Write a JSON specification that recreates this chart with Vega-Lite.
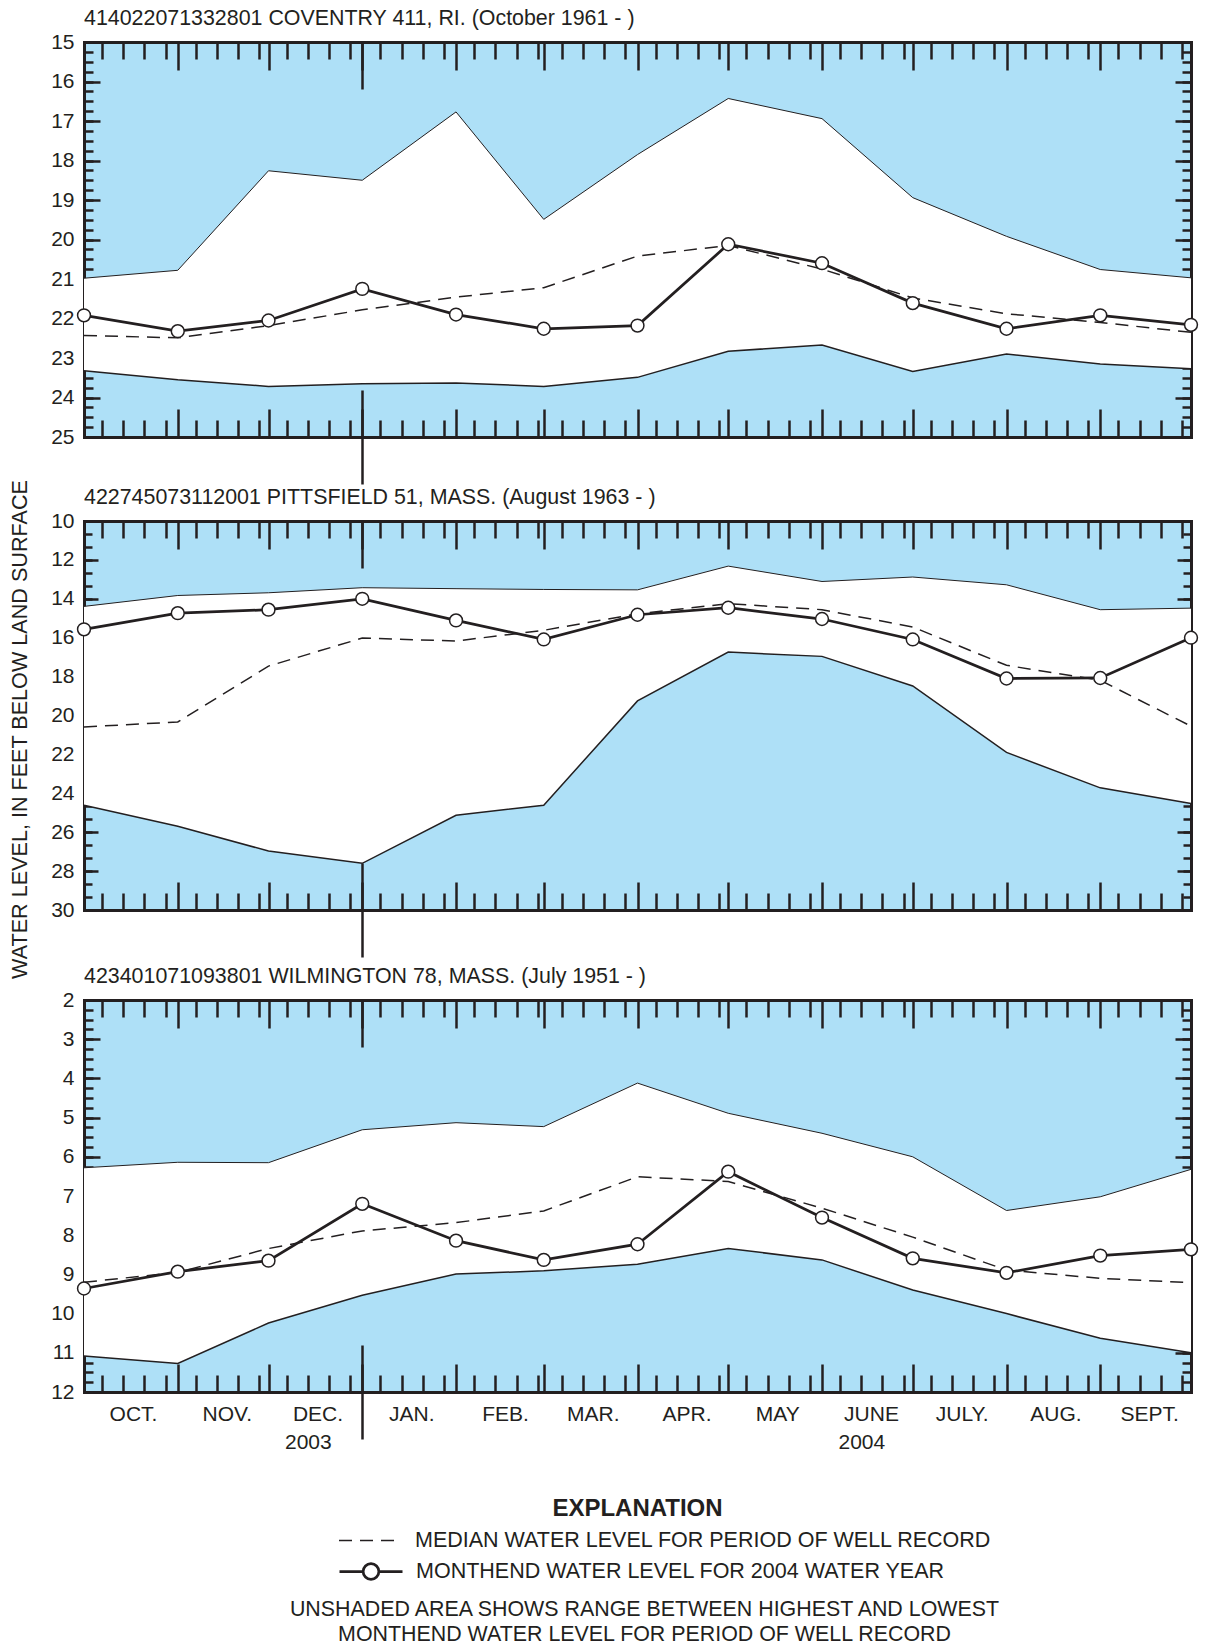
{
  "$schema": "https://vega.github.io/schema/vega-lite/v6.json",
  "background": "white",
  "padding": {"left": 9, "top": 7, "right": 5, "bottom": 5},
  "params": [
    {"name": "xmin", "expr": "[datetime(2003,9,7),datetime(2003,9,14),datetime(2003,9,21),datetime(2003,9,28),datetime(2003,10,7),datetime(2003,10,14),datetime(2003,10,21),datetime(2003,10,28),datetime(2003,11,7),datetime(2003,11,14),datetime(2003,11,21),datetime(2003,11,28),datetime(2004,0,7),datetime(2004,0,14),datetime(2004,0,21),datetime(2004,0,28),datetime(2004,1,7),datetime(2004,1,14),datetime(2004,1,21),datetime(2004,1,28),datetime(2004,2,7),datetime(2004,2,14),datetime(2004,2,21),datetime(2004,2,28),datetime(2004,3,7),datetime(2004,3,14),datetime(2004,3,21),datetime(2004,3,28),datetime(2004,4,7),datetime(2004,4,14),datetime(2004,4,21),datetime(2004,4,28),datetime(2004,5,7),datetime(2004,5,14),datetime(2004,5,21),datetime(2004,5,28),datetime(2004,6,7),datetime(2004,6,14),datetime(2004,6,21),datetime(2004,6,28),datetime(2004,7,7),datetime(2004,7,14),datetime(2004,7,21),datetime(2004,7,28),datetime(2004,8,7),datetime(2004,8,14),datetime(2004,8,21),datetime(2004,8,28)]"},
    {"name": "xmon", "expr": "[datetime(2003,9,1),datetime(2003,10,1),datetime(2003,11,1),datetime(2004,0,1),datetime(2004,1,1),datetime(2004,2,1),datetime(2004,3,1),datetime(2004,4,1),datetime(2004,5,1),datetime(2004,6,1),datetime(2004,7,1),datetime(2004,8,1)]"},
    {"name": "xyr", "expr": "[datetime(2004,0,1)]"}
  ],
  "datasets": {
    "coventry": [
      {"date": "2003-10-01T00:00:00", "hi": 20.98, "lo": 23.32, "median": 22.43, "monthend": 21.92},
      {"date": "2003-11-01T00:00:00", "hi": 20.78, "lo": 23.55, "median": 22.49, "monthend": 22.32},
      {"date": "2003-12-01T00:00:00", "hi": 18.26, "lo": 23.72, "median": 22.18, "monthend": 22.05},
      {"date": "2004-01-01T00:00:00", "hi": 18.5, "lo": 23.65, "median": 21.78, "monthend": 21.25},
      {"date": "2004-02-01T00:00:00", "hi": 16.77, "lo": 23.63, "median": 21.46, "monthend": 21.9},
      {"date": "2004-03-01T00:00:00", "hi": 19.49, "lo": 23.72, "median": 21.22, "monthend": 22.26},
      {"date": "2004-04-01T00:00:00", "hi": 17.85, "lo": 23.49, "median": 20.42, "monthend": 22.18},
      {"date": "2004-05-01T00:00:00", "hi": 16.43, "lo": 22.83, "median": 20.15, "monthend": 20.12},
      {"date": "2004-06-01T00:00:00", "hi": 16.94, "lo": 22.67, "median": 20.75, "monthend": 20.6},
      {"date": "2004-07-01T00:00:00", "hi": 18.94, "lo": 23.34, "median": 21.48, "monthend": 21.61},
      {"date": "2004-08-01T00:00:00", "hi": 19.92, "lo": 22.9, "median": 21.88, "monthend": 22.26},
      {"date": "2004-09-01T00:00:00", "hi": 20.76, "lo": 23.15, "median": 22.1, "monthend": 21.92},
      {"date": "2004-10-01T00:00:00", "hi": 20.97, "lo": 23.27, "median": 22.35, "monthend": 22.16}
    ],
    "pittsfield": [
      {"date": "2003-10-01T00:00:00", "hi": 14.39, "lo": 24.61, "median": 20.59, "monthend": 15.57},
      {"date": "2003-11-01T00:00:00", "hi": 13.83, "lo": 25.69, "median": 20.33, "monthend": 14.74},
      {"date": "2003-12-01T00:00:00", "hi": 13.69, "lo": 26.97, "median": 17.46, "monthend": 14.56},
      {"date": "2004-01-01T00:00:00", "hi": 13.43, "lo": 27.6, "median": 16.02, "monthend": 14.0},
      {"date": "2004-02-01T00:00:00", "hi": 13.48, "lo": 25.13, "median": 16.17, "monthend": 15.11},
      {"date": "2004-03-01T00:00:00", "hi": 13.52, "lo": 24.61, "median": 15.62, "monthend": 16.09},
      {"date": "2004-04-01T00:00:00", "hi": 13.54, "lo": 19.25, "median": 14.77, "monthend": 14.82},
      {"date": "2004-05-01T00:00:00", "hi": 12.32, "lo": 16.74, "median": 14.25, "monthend": 14.46},
      {"date": "2004-06-01T00:00:00", "hi": 13.11, "lo": 16.96, "median": 14.56, "monthend": 15.04},
      {"date": "2004-07-01T00:00:00", "hi": 12.88, "lo": 18.48, "median": 15.45, "monthend": 16.09},
      {"date": "2004-08-01T00:00:00", "hi": 13.28, "lo": 21.9, "median": 17.42, "monthend": 18.1},
      {"date": "2004-09-01T00:00:00", "hi": 14.56, "lo": 23.72, "median": 18.19, "monthend": 18.07},
      {"date": "2004-10-01T00:00:00", "hi": 14.48, "lo": 24.52, "median": 20.55, "monthend": 16.0}
    ],
    "wilmington": [
      {"date": "2003-10-01T00:00:00", "hi": 6.28, "lo": 11.08, "median": 9.2, "monthend": 9.36},
      {"date": "2003-11-01T00:00:00", "hi": 6.14, "lo": 11.27, "median": 8.95, "monthend": 8.93},
      {"date": "2003-12-01T00:00:00", "hi": 6.15, "lo": 10.24, "median": 8.34, "monthend": 8.65},
      {"date": "2004-01-01T00:00:00", "hi": 5.31, "lo": 9.53, "median": 7.89, "monthend": 7.2},
      {"date": "2004-02-01T00:00:00", "hi": 5.13, "lo": 8.99, "median": 7.68, "monthend": 8.14},
      {"date": "2004-03-01T00:00:00", "hi": 5.23, "lo": 8.91, "median": 7.38, "monthend": 8.63},
      {"date": "2004-04-01T00:00:00", "hi": 4.12, "lo": 8.74, "median": 6.51, "monthend": 8.23},
      {"date": "2004-05-01T00:00:00", "hi": 4.89, "lo": 8.34, "median": 6.63, "monthend": 6.38},
      {"date": "2004-06-01T00:00:00", "hi": 5.4, "lo": 8.63, "median": 7.31, "monthend": 7.55},
      {"date": "2004-07-01T00:00:00", "hi": 6.0, "lo": 9.4, "median": 8.05, "monthend": 8.59},
      {"date": "2004-08-01T00:00:00", "hi": 7.37, "lo": 10.0, "median": 8.89, "monthend": 8.96},
      {"date": "2004-09-01T00:00:00", "hi": 7.02, "lo": 10.63, "median": 9.1, "monthend": 8.52},
      {"date": "2004-10-01T00:00:00", "hi": 6.32, "lo": 11.0, "median": 9.21, "monthend": 8.36}
    ]
  },
  "title": {
    "text": ["UNSHADED AREA SHOWS RANGE BETWEEN HIGHEST AND LOWEST", "MONTHEND WATER LEVEL FOR PERIOD OF WELL RECORD"],
    "orient": "bottom", "anchor": "middle", "frame": "group", "baseline": "top",
    "fontSize": 21.4, "lineHeight": 25, "offset": 13, "dx": 7
  },
  "bounds": "flush",
  "spacing": 84,
  "vconcat": [
    {
      "width": 1107, "height": 395,
      "title": {"text": "414022071332801 COVENTRY 411, RI. (October 1961 - )"},
      "data": {"name": "coventry"},
      "layer": [
        {"mark": {"type": "area", "color": "white", "opacity": 1},
         "encoding": {
           "x": {"field": "date", "type": "temporal", "scale": {"domain": [{"year": 2003, "month": 10, "date": 1}, {"year": 2004, "month": 10, "date": 1}], "nice": false},
                 "axis": {"orient": "bottom", "title": null, "labels": false, "values": {"expr": "xmin"}, "tickSize": -17}},
           "y": {"field": "hi", "type": "quantitative", "scale": {"domain": [15, 25], "reverse": true, "nice": false, "zero": false},
                 "axis": {"orient": "left", "title": "WATER LEVEL, IN FEET BELOW LAND SURFACE", "titleY": 687, "titlePadding": 19,
                          "values": {"expr": "sequence(15, 25.001, 1)"}, "format": "d", "tickSize": -16, "labelPadding": 26}},
           "y2": {"field": "lo"}
         }},
        {"mark": {"type": "line", "color": "#231f20", "strokeWidth": 1},
         "encoding": {
           "x": {"field": "date", "type": "temporal", "axis": {"orient": "bottom", "title": null, "labels": false, "domain": false, "values": {"expr": "xmon"}, "tickSize": -28}},
           "y": {"field": "hi", "type": "quantitative", "axis": {"orient": "left", "title": null, "labels": false, "domain": false, "values": {"expr": "sequence(15, 25.001, 0.25)"}, "tickSize": -9}}
         }},
        {"mark": {"type": "line", "color": "#231f20", "strokeWidth": 1.5},
         "encoding": {
           "x": {"field": "date", "type": "temporal", "axis": {"orient": "bottom", "title": null, "labels": false, "domain": false, "values": {"expr": "xyr"}, "tickSize": 94, "offset": -47}},
           "y": {"field": "lo", "type": "quantitative", "axis": {"orient": "right", "title": null, "labels": false, "values": {"expr": "sequence(15, 25.001, 1)"}, "tickSize": -16}}
         }},
        {"mark": {"type": "line", "color": "#231f20", "strokeWidth": 1.5},
         "encoding": {
           "x": {"field": "date", "type": "temporal", "axis": {"orient": "top", "title": null, "labels": false, "values": {"expr": "xmin"}, "tickSize": -17}},
           "y": {"field": "median", "type": "quantitative", "axis": {"orient": "right", "title": null, "labels": false, "domain": false, "values": {"expr": "sequence(15, 25.001, 0.25)"}, "tickSize": -9}},
           "strokeDash": {"datum": "MEDIAN WATER LEVEL FOR PERIOD OF WELL RECORD", "type": "nominal",
             "scale": {"domain": ["MEDIAN WATER LEVEL FOR PERIOD OF WELL RECORD"], "range": [[13, 8]]},
             "legend": {"title": null, "orient": "none", "legendX": 254, "legendY": 1466,
               "labelFontSize": 21.5, "labelColor": "#231f20", "labelOffset": 12, "labelLimit": 1000,
               "symbolSize": 3969, "symbolType": "M-1,0H1", "symbolStrokeWidth": 1.5, "symbolStrokeColor": "#231f20"}}
         }},
        {"mark": {"type": "line", "color": "#231f20"},
         "encoding": {
           "x": {"field": "date", "type": "temporal", "axis": {"orient": "top", "title": null, "labels": false, "domain": false, "values": {"expr": "xmon"}, "tickSize": -28}},
           "y": {"field": "monthend", "type": "quantitative", "axis": null},
           "strokeWidth": {"datum": "MONTHEND WATER LEVEL FOR 2004 WATER YEAR", "type": "nominal",
             "scale": {"type": "ordinal", "domain": ["MONTHEND WATER LEVEL FOR 2004 WATER YEAR"], "range": [2.75]},
             "legend": {"title": null, "orient": "none", "legendX": 254, "legendY": 1496.5,
               "labelFontSize": 21.5, "labelColor": "#231f20", "labelOffset": 12, "labelLimit": 1000,
               "symbolSize": 3969, "symbolType": "M-1,0H-0.25M0.25,0H1M0.25,0A0.25,0.25,0,1,1,-0.25,0A0.25,0.25,0,1,1,0.25,0",
               "symbolFillColor": "white", "symbolStrokeColor": "#231f20"}}
         }},
        {"mark": {"type": "point", "filled": true, "fill": "white", "stroke": "#231f20", "strokeWidth": 1.5, "size": 165, "opacity": 1},
         "encoding": {
           "x": {"field": "date", "type": "temporal", "axis": {"orient": "top", "title": null, "labels": false, "domain": false, "values": {"expr": "xyr"}, "tickSize": -47}},
           "y": {"field": "monthend", "type": "quantitative", "axis": null}
         }}
      ],
      "resolve": {"axis": {"x": "independent", "y": "independent"}}
    },
    {
      "bounds": "flush",
      "spacing": 90,
      "title": {"text": "EXPLANATION", "orient": "bottom", "anchor": "start", "align": "center", "dx": 553.5, "frame": "group", "fontSize": 24, "fontWeight": "bold", "baseline": "alphabetic", "offset": 63},
      "vconcat": [
        {
          "width": 1107, "height": 389,
          "title": {"text": "422745073112001 PITTSFIELD 51, MASS. (August 1963 - )"},
          "data": {"name": "pittsfield"},
          "layer": [
            {"mark": {"type": "area", "color": "white", "opacity": 1},
             "encoding": {
               "x": {"field": "date", "type": "temporal", "scale": {"domain": [{"year": 2003, "month": 10, "date": 1}, {"year": 2004, "month": 10, "date": 1}], "nice": false},
                     "axis": {"orient": "bottom", "title": null, "labels": false, "values": {"expr": "xmin"}, "tickSize": -17}},
               "y": {"field": "hi", "type": "quantitative", "scale": {"domain": [10, 30], "reverse": true, "nice": false, "zero": false},
                     "axis": {"orient": "left", "title": null, "values": {"expr": "sequence(10, 30.001, 2)"}, "format": "d", "tickSize": -14, "labelPadding": 24}},
               "y2": {"field": "lo"}
             }},
            {"mark": {"type": "line", "color": "#231f20", "strokeWidth": 1},
             "encoding": {
               "x": {"field": "date", "type": "temporal", "axis": {"orient": "bottom", "title": null, "labels": false, "domain": false, "values": {"expr": "xmon"}, "tickSize": -28}},
               "y": {"field": "hi", "type": "quantitative", "axis": {"orient": "left", "title": null, "labels": false, "domain": false, "values": {"expr": "sequence(10, 30.001, 2/3)"}, "tickSize": -8}}
             }},
            {"mark": {"type": "line", "color": "#231f20", "strokeWidth": 1.5},
             "encoding": {
               "x": {"field": "date", "type": "temporal", "axis": {"orient": "bottom", "title": null, "labels": false, "domain": false, "values": {"expr": "xyr"}, "tickSize": 94, "offset": -47}},
               "y": {"field": "lo", "type": "quantitative", "axis": {"orient": "right", "title": null, "labels": false, "values": {"expr": "sequence(10, 30.001, 2)"}, "tickSize": -14}}
             }},
            {"mark": {"type": "line", "color": "#231f20", "strokeWidth": 1.5},
             "encoding": {
               "x": {"field": "date", "type": "temporal", "axis": {"orient": "top", "title": null, "labels": false, "values": {"expr": "xmin"}, "tickSize": -17}},
               "y": {"field": "median", "type": "quantitative", "axis": {"orient": "right", "title": null, "labels": false, "domain": false, "values": {"expr": "sequence(10, 30.001, 2/3)"}, "tickSize": -8}},
               "strokeDash": {"datum": "MEDIAN WATER LEVEL FOR PERIOD OF WELL RECORD", "type": "nominal",
                 "scale": {"domain": ["MEDIAN WATER LEVEL FOR PERIOD OF WELL RECORD"], "range": [[13, 8]]},
                 "legend": {"title": null, "orient": "none", "legendX": 254, "legendY": 1466,
                   "labelFontSize": 21.5, "labelColor": "#231f20", "labelOffset": 12, "labelLimit": 1000,
                   "symbolSize": 3969, "symbolType": "M-1,0H1", "symbolStrokeWidth": 1.5, "symbolStrokeColor": "#231f20"}}
             }},
            {"mark": {"type": "line", "color": "#231f20"},
             "encoding": {
               "x": {"field": "date", "type": "temporal", "axis": {"orient": "top", "title": null, "labels": false, "domain": false, "values": {"expr": "xmon"}, "tickSize": -28}},
               "y": {"field": "monthend", "type": "quantitative", "axis": null},
               "strokeWidth": {"datum": "MONTHEND WATER LEVEL FOR 2004 WATER YEAR", "type": "nominal",
                 "scale": {"type": "ordinal", "domain": ["MONTHEND WATER LEVEL FOR 2004 WATER YEAR"], "range": [2.75]},
                 "legend": {"title": null, "orient": "none", "legendX": 254, "legendY": 1496.5,
                   "labelFontSize": 21.5, "labelColor": "#231f20", "labelOffset": 12, "labelLimit": 1000,
                   "symbolSize": 3969, "symbolType": "M-1,0H-0.25M0.25,0H1M0.25,0A0.25,0.25,0,1,1,-0.25,0A0.25,0.25,0,1,1,0.25,0",
                   "symbolFillColor": "white", "symbolStrokeColor": "#231f20"}}
             }},
            {"mark": {"type": "point", "filled": true, "fill": "white", "stroke": "#231f20", "strokeWidth": 1.5, "size": 165, "opacity": 1},
             "encoding": {
               "x": {"field": "date", "type": "temporal", "axis": {"orient": "top", "title": null, "labels": false, "domain": false, "values": {"expr": "xyr"}, "tickSize": -47}},
               "y": {"field": "monthend", "type": "quantitative", "axis": null}
             }}
          ],
          "resolve": {"axis": {"x": "independent", "y": "independent"}}
        },
        {
          "width": 1107, "height": 392,
          "title": {"text": "423401071093801 WILMINGTON 78, MASS. (July 1951 - )"},
          "data": {"name": "wilmington"},
          "layer": [
            {"mark": {"type": "area", "color": "white", "opacity": 1},
             "encoding": {
               "x": {"field": "date", "type": "temporal", "scale": {"domain": [{"year": 2003, "month": 10, "date": 1}, {"year": 2004, "month": 10, "date": 1}], "nice": false},
                     "axis": {"orient": "bottom", "title": null, "values": {"expr": "xmin"}, "tickSize": -17, "labelPadding": 56,
                              "labelExpr": "month(datum.value)==11 && date(datum.value)==14 ? '2003' : (month(datum.value)==5 && date(datum.value)==14 ? '2004' : '')"}},
               "y": {"field": "hi", "type": "quantitative", "scale": {"domain": [2, 12], "reverse": true, "nice": false, "zero": false},
                     "axis": {"orient": "left", "title": null, "values": {"expr": "sequence(2, 12.001, 1)"}, "format": "d", "tickSize": -16, "labelPadding": 26}},
               "y2": {"field": "lo"}
             }},
            {"mark": {"type": "line", "color": "#231f20", "strokeWidth": 1},
             "encoding": {
               "x": {"field": "date", "type": "temporal", "axis": {"orient": "bottom", "title": null, "domain": false, "values": {"expr": "xmon"}, "tickSize": -28, "labelPadding": 39, "labelOffset": 49,
                     "labelExpr": "['JAN.','FEB.','MAR.','APR.','MAY','JUNE','JULY.','AUG.','SEPT.','OCT.','NOV.','DEC.'][month(datum.value)]"}},
               "y": {"field": "hi", "type": "quantitative", "axis": {"orient": "left", "title": null, "labels": false, "domain": false, "values": {"expr": "sequence(2, 12.001, 0.25)"}, "tickSize": -9}}
             }},
            {"mark": {"type": "line", "color": "#231f20", "strokeWidth": 1.5},
             "encoding": {
               "x": {"field": "date", "type": "temporal", "axis": {"orient": "bottom", "title": null, "labels": false, "domain": false, "values": {"expr": "xyr"}, "tickSize": 94, "offset": -47}},
               "y": {"field": "lo", "type": "quantitative", "axis": {"orient": "right", "title": null, "labels": false, "values": {"expr": "sequence(2, 12.001, 1)"}, "tickSize": -16}}
             }},
            {"mark": {"type": "line", "color": "#231f20", "strokeWidth": 1.5},
             "encoding": {
               "x": {"field": "date", "type": "temporal", "axis": {"orient": "top", "title": null, "labels": false, "values": {"expr": "xmin"}, "tickSize": -17}},
               "y": {"field": "median", "type": "quantitative", "axis": {"orient": "right", "title": null, "labels": false, "domain": false, "values": {"expr": "sequence(2, 12.001, 0.25)"}, "tickSize": -9}},
               "strokeDash": {"datum": "MEDIAN WATER LEVEL FOR PERIOD OF WELL RECORD", "type": "nominal",
                 "scale": {"domain": ["MEDIAN WATER LEVEL FOR PERIOD OF WELL RECORD"], "range": [[13, 8]]},
                 "legend": {"title": null, "orient": "none", "legendX": 254, "legendY": 1466,
                   "labelFontSize": 21.5, "labelColor": "#231f20", "labelOffset": 12, "labelLimit": 1000,
                   "symbolSize": 3969, "symbolType": "M-1,0H1", "symbolStrokeWidth": 1.5, "symbolStrokeColor": "#231f20"}}
             }},
            {"mark": {"type": "line", "color": "#231f20"},
             "encoding": {
               "x": {"field": "date", "type": "temporal", "axis": {"orient": "top", "title": null, "labels": false, "domain": false, "values": {"expr": "xmon"}, "tickSize": -28}},
               "y": {"field": "monthend", "type": "quantitative", "axis": null},
               "strokeWidth": {"datum": "MONTHEND WATER LEVEL FOR 2004 WATER YEAR", "type": "nominal",
                 "scale": {"type": "ordinal", "domain": ["MONTHEND WATER LEVEL FOR 2004 WATER YEAR"], "range": [2.75]},
                 "legend": {"title": null, "orient": "none", "legendX": 254, "legendY": 1496.5,
                   "labelFontSize": 21.5, "labelColor": "#231f20", "labelOffset": 12, "labelLimit": 1000,
                   "symbolSize": 3969, "symbolType": "M-1,0H-0.25M0.25,0H1M0.25,0A0.25,0.25,0,1,1,-0.25,0A0.25,0.25,0,1,1,0.25,0",
                   "symbolFillColor": "white", "symbolStrokeColor": "#231f20"}}
             }},
            {"mark": {"type": "point", "filled": true, "fill": "white", "stroke": "#231f20", "strokeWidth": 1.5, "size": 165, "opacity": 1},
             "encoding": {
               "x": {"field": "date", "type": "temporal", "axis": {"orient": "top", "title": null, "labels": false, "domain": false, "values": {"expr": "xyr"}, "tickSize": -47}},
               "y": {"field": "monthend", "type": "quantitative", "axis": null}
             }}
          ],
          "resolve": {"axis": {"x": "independent", "y": "independent"}}
        }
      ]
    }
  ],
  "config": {
    "font": "Liberation Sans",
    "view": {"fill": "#aee0f7", "stroke": "transparent"},
    "axis": {"zindex": 1, "grid": false, "domainColor": "#231f20", "domainWidth": 3, "domainCap": "square", "tickColor": "#231f20", "tickWidth": 2.5,
             "labelColor": "#231f20", "labelFontSize": 21, "labelFont": "Liberation Sans", "labelOverlap": false, "labelFlush": false, "labelBound": false,
             "titleColor": "#231f20", "titleFontSize": 21.6, "titleFontWeight": "normal", "titleFont": "Liberation Sans"},
    "title": {"fontSize": 21.4, "fontWeight": "normal", "anchor": "start", "frame": "group", "color": "#231f20", "font": "Liberation Sans", "offset": 2, "baseline": "alphabetic"},
    "legend": {"labelFont": "Liberation Sans", "titleFont": "Liberation Sans"}
  }
}
